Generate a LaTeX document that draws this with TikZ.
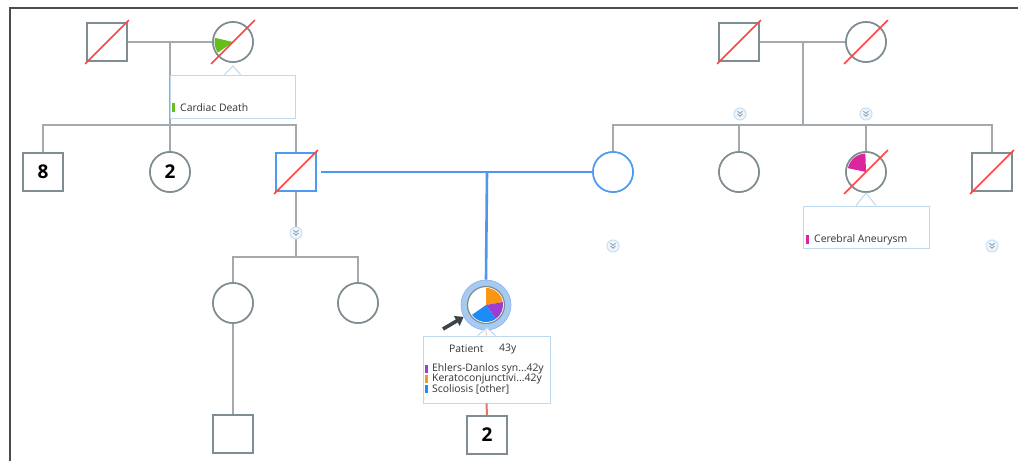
\documentclass[tikz,border=0pt]{standalone}
\usepackage{fontspec}
\setmainfont{Open Sans}
\usetikzlibrary{arrows.meta}
\definecolor{lgray}{HTML}{A3A9AD}
\definecolor{ngray}{HTML}{7F8C91}
\definecolor{nblue}{HTML}{4D9BF0}
\definecolor{cblue}{HTML}{4D97EE}
\definecolor{slashred}{HTML}{FF4444}
\definecolor{callblue}{HTML}{BCD9F0}
\definecolor{chevfill}{HTML}{EEF5FC}
\definecolor{chevline}{HTML}{C9DFF3}
\definecolor{chevgray}{HTML}{8E9AA3}
\definecolor{cgreen}{HTML}{66BE1C}
\definecolor{cpink}{HTML}{D9269F}
\definecolor{corange}{HTML}{FA9614}
\definecolor{cpurple}{HTML}{9B3FD4}
\definecolor{cbluep}{HTML}{1E8CF7}
\definecolor{ringblue}{HTML}{A6CBF1}
\definecolor{txt}{HTML}{333333}
\definecolor{redl}{HTML}{E5736A}
\definecolor{ptrgray}{HTML}{3B4549}
\newcommand\deceased[1]{\draw[slashst] ([shift={(225:31pt)}]#1.center) -- ([shift={(45:31pt)}]#1.center);}
\begin{document}
\begin{tikzpicture}[x=1pt,y=-1pt,
  ln/.style={draw=lgray, line width=1.6pt},
  bln/.style={draw=cblue, line width=2.6pt},
  ind/.style={draw=ngray, line width=1.6pt, fill=white, inner sep=0pt, text=black, font=\fontsize{19}{19}\selectfont\bfseries},
  male/.style={ind, rectangle, minimum width=40pt, minimum height=38pt},
  female/.style={ind, circle, minimum size=40pt},
  bl/.style={draw=nblue},
  slashst/.style={draw=slashred, line width=1.5pt},
  callout/.style={draw=callblue, line width=1pt, fill=white, rectangle, inner sep=0pt},
  lab/.style={font=\fontsize{10.4}{10.4}\selectfont, text=txt, inner sep=0pt, anchor=west},
  chev/.style={circle, draw=chevline, fill=chevfill, line width=1pt, minimum size=12pt, inner sep=0pt,
    path picture={
      \draw[chevgray, line width=0.8pt] ([shift={(-2.5,-2.8)}]path picture bounding box.center) -- ([shift={(0,-0.6)}]path picture bounding box.center) -- ([shift={(2.5,-2.8)}]path picture bounding box.center);
      \draw[chevgray, line width=0.8pt] ([shift={(-2.5,0)}]path picture bounding box.center) -- ([shift={(0,2.2)}]path picture bounding box.center) -- ([shift={(2.5,0)}]path picture bounding box.center);
    }},
  ptr/.style={draw=ptrgray, line width=3.6pt, -{Triangle[length=8pt,width=11pt]}}
]
\useasboundingbox (0,0) rectangle (1018,461);
\fill[white] (0,0) rectangle (1018,461);

% frame
\draw[draw=black!70, line width=2pt] (10,461) -- (10,8) -- (1018,8);

% ---------- coordinates for junctions ----------
\coordinate (d1) at (170,42);
\coordinate (b1) at (170,125);
\coordinate (d2) at (803,42);
\coordinate (b2) at (803,125);
\coordinate (m) at (487,172);
\coordinate (b3) at (296,257);
\coordinate (arrtail) at (443,329);

% ---------- individuals ----------
\node[male] (gf1) at (107,42) {};
\node[female] (gm1) at (233,42) {};
\node[male] (gf2) at (739,42) {};
\node[female] (gm2) at (866,42) {};
\node[male] (s8) at (43,172) {8};
\node[female] (s2) at (170,172) {2};
\node[male, bl] (fa) at (296,172) {};
\node[female, bl] (mo) at (613,172) {};
\node[female] (a1) at (739,172) {};
\node[female] (a2) at (866,172) {};
\node[male] (u1) at (992,172) {};
\node[female] (h1) at (233,303) {};
\node[female] (h2) at (358,303) {};
\node[male] (h3) at (233,434) {};
\node[male] (c2) at (487,435) {2};

% ---------- connectors ----------
\draw[ln] (gf1) -- (gm1);
\draw[ln] (d1) -- (b1);
\draw[ln] (s8.north) -- (s8.north |- b1) -- (fa.north |- b1) -- (fa.north);
\draw[ln] (s2.north) -- (s2.north |- b1);

\draw[ln] (gf2) -- (gm2);
\draw[ln] (d2) -- (b2);
\draw[ln] (mo.north) -- (mo.north |- b2) -- (u1.north |- b2) -- (u1.north);
\draw[ln] (a1.north) -- (a1.north |- b2);
\draw[ln] (a2.north) -- (a2.north |- b2);

\draw[ln] (fa.south) -- (b3);
\draw[ln] (h1.north) -- (h1.north |- b3) -- (h2.north |- b3) -- (h2.north);
\draw[ln] (h1.south) -- (h3.north);

% redraw nodes on top of lines
\node[male] at (gf1) {};
\node[female] at (gm1) {};
\node[male] at (gf2) {};
\node[female] at (gm2) {};
\node[male] at (s8) {8};
\node[female] at (s2) {2};
\node[male, bl] at (fa) {};
\node[female] at (a1) {};
\node[female] at (a2) {};
\node[male] at (u1) {};
\node[female] at (h1) {};
\node[female] at (h2) {};
\node[male] at (h3) {};

% pie wedges
\fill[cgreen] (gm1.center) -- ++(167:18.5pt) arc[start angle=167, end angle=215, radius=18.5pt] -- cycle;
\fill[cpink] (a2.center) -- ++(92:18.5pt) arc[start angle=92, end angle=168, radius=18.5pt] -- cycle;

% deceased slashes
\deceased{gf1}
\deceased{gm1}
\deceased{gf2}
\deceased{gm2}
\deceased{fa}
\deceased{a2}
\deceased{u1}

% blue partnership
\draw[bln] ([xshift=4pt]fa.east) -- (mo.west);
\node[female, bl] at (mo) {};

% patient
\node[circle, fill=ringblue, draw=ringblue!85!blue, line width=0.6pt, minimum size=50pt, inner sep=0pt] (pat) at (486,305) {};
\draw[bln] (m) -- (pat.north);
\node[circle, fill=white, draw=ngray, line width=1.2pt, minimum size=37pt, inner sep=0pt] (pin) at (pat.center) {};
\fill[corange] (pin.center) -- ++(10:17pt) arc[start angle=10, end angle=90, radius=17pt] -- cycle;
\fill[cpurple] (pin.center) -- ++(-55:17pt) arc[start angle=-55, end angle=10, radius=17pt] -- cycle;
\fill[cbluep] (pin.center) -- ++(-145:17pt) arc[start angle=-145, end angle=-55, radius=17pt] -- cycle;
\draw[ptr] (arrtail) -- (pat.208);

% chevrons
\node[chev] (ch1) at (296,233) {};
\node[chev] (ch2) at (740,114) {};
\node[chev] (ch3) at (866,114) {};
\node[chev] (ch4) at (613,246) {};
\node[chev] (ch5) at (992,246) {};

% ---------- callouts ----------
% Cardiac death
\node[callout, minimum width=125pt, minimum height=43pt] (cdb) at (232.5,96.5) {};
\coordinate (cda) at (233,66);
\fill[white] ([xshift=-8pt]cdb.north) -- (cda) -- ([xshift=8pt]cdb.north) -- cycle;
\draw[white, line width=1.6pt] ([xshift=-7.5pt]cdb.north) -- ([xshift=7.5pt]cdb.north);
\draw[draw=callblue, line width=1pt] ([xshift=-8pt]cdb.north) -- (cda) -- ([xshift=8pt]cdb.north);
\fill[cgreen] (172,103) rectangle (175,112);
\node[lab] (cdt) at (180,108) {Cardiac Death};

% Cerebral aneurysm
\node[callout, minimum width=126pt, minimum height=42pt] (cab) at (866,227) {};
\coordinate (caa) at (866,193);
\fill[white] ([xshift=-10pt]cab.north) -- (caa) -- ([xshift=10pt]cab.north) -- cycle;
\draw[white, line width=1.6pt] ([xshift=-9.5pt]cab.north) -- ([xshift=9.5pt]cab.north);
\draw[draw=callblue, line width=1pt] ([xshift=-10pt]cab.north) -- (caa) -- ([xshift=10pt]cab.north);
\fill[cpink] (806,235) rectangle (809,244);
\node[lab] (cat) at (814,240) {Cerebral Aneurysm};

% Patient callout
\node[callout, minimum width=127pt, minimum height=67pt] (pc) at (486.5,369.5) {};
\coordinate (pca) at (487,328);
\fill[white] ([xshift=-9pt]pc.north) -- (pca) -- ([xshift=9pt]pc.north) -- cycle;
\draw[white, line width=1.6pt] ([xshift=-8.5pt]pc.north) -- ([xshift=8.5pt]pc.north);
\draw[draw=callblue, line width=1pt] ([xshift=-9pt]pc.north) -- (pca) -- ([xshift=9pt]pc.north);
\draw[draw=redl!40, line width=1pt] (pat.south) -- (pc.north);
\draw[draw=redl, line width=2pt] (pc.south) -- (c2.north);
\node[lab] (pt1) at (449,349) {Patient};
\node[lab] (pt2) at (499,349) {43y};
\fill[cpurple] (425,365) rectangle (428,373);
\fill[corange] (425,375) rectangle (428,383);
\fill[cbluep] (425,385) rectangle (428,393);
\node[lab] (l1) at (432,369) {Ehlers-Danlos syn...42y};
\node[lab] (l2) at (432,379) {Keratoconjunctivi...42y};
\node[lab] (l3) at (432,389) {Scoliosis [other]};
\end{tikzpicture}
\end{document}
